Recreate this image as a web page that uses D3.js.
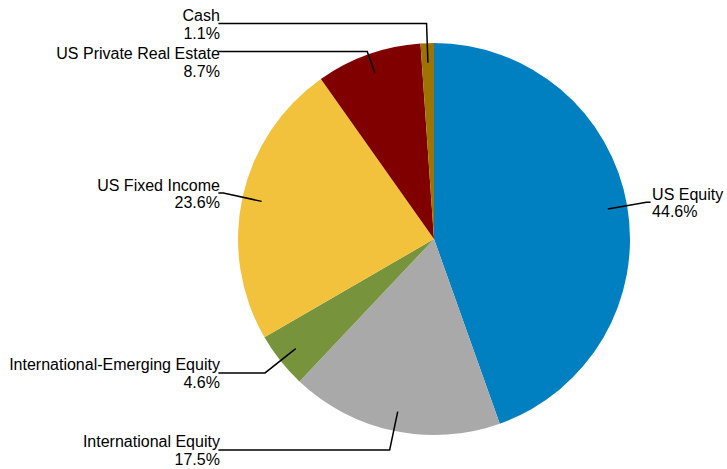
<!DOCTYPE html>
<html><head><meta charset="utf-8">
<script src="https://cdn.jsdelivr.net/npm/d3@7"></script>
<style>html,body{margin:0;padding:0;background:#fff;}svg{display:block;}</style>
</head><body>
<svg id="chart" width="727" height="469"></svg>
<script>
const categories = ["US Equity","International Equity","International-Emerging Equity","US Fixed Income","US Private Real Estate","Cash"];
const values = [44.6, 17.5, 4.6, 23.6, 8.7, 1.1];
const labels = ["44.6%","17.5%","4.6%","23.6%","8.7%","1.1%"];
const colors = ["#0080C0","#A9A9A9","#77933C","#F2C23C","#800000","#9E7400"];

const svg = d3.select("#chart");
const cx = 434, cy = 239, r = 196;
const g = svg.append("g").attr("transform", `translate(${cx},${cy})`);

const pie = d3.pie().sort(null).value(d => d.v);
const data = categories.map((c,i) => ({c, v: values[i], l: labels[i], col: colors[i]}));
const arcs = pie(data);
const arc = d3.arc().innerRadius(0).outerRadius(r);

g.selectAll("path.slice").data(arcs).enter().append("path")
  .attr("d", arc).attr("fill", d => d.data.col);

// label layout
const inner = d3.arc().innerRadius(r*0.9).outerRadius(r*0.9);
const outer = d3.arc().innerRadius(r*1.1).outerRadius(r*1.1);
const items = arcs.map(a => {
  const p0 = inner.centroid(a);
  const p1 = outer.centroid(a);
  return {a, p0, p1, right: p1[0] > 0, y: p1[1], ty: p1[1]};
});
// collision avoidance on left side (top-down): leader elbows and text blocks
const left = items.filter(d => !d.right).sort((a,b) => a.y - b.y);
for (let i = 1; i < left.length; i++) {
  if (left[i].y - left[i-1].y < 28) left[i].y = left[i-1].y + 28;
  if (left[i].ty - left[i-1].ty < 38) left[i].ty = left[i-1].ty + 38;
}
items.forEach(d => {
  const p0 = d.p0;
  let ex = d.p1[0], ey = d.p1[1];
  if (ey !== d.y) {
    const t = (d.y - p0[1]) / (d.p1[1] - p0[1]);
    ex = p0[0] + (d.p1[0] - p0[0]) * t;
    ey = d.y;
  }
  const endX = d.right ? r*1.1 + 1 : -r*1.1;
  g.append("polyline")
    .attr("points", [[p0[0],p0[1]],[ex,ey],[endX,ey]].map(p=>p.join(",")).join(" "))
    .attr("fill","none").attr("stroke","#000").attr("stroke-width",1.5);
  const tx = d.right ? r*1.1 + 2.5 : -r*1.1 + 1.5;
  const t = g.append("text")
    .attr("x", tx).attr("y", d.ty)
    .attr("text-anchor", d.right ? "start" : "end")
    .attr("font-family","'Liberation Sans', Arial, sans-serif")
    .attr("font-size", 16).attr("fill","#000");
  t.append("tspan").attr("x", tx).attr("dy", -2.5).text(d.a.data.c);
  t.append("tspan").attr("x", tx).attr("dy", 17.5).text(d.a.data.l);
});
</script>
</body></html>
